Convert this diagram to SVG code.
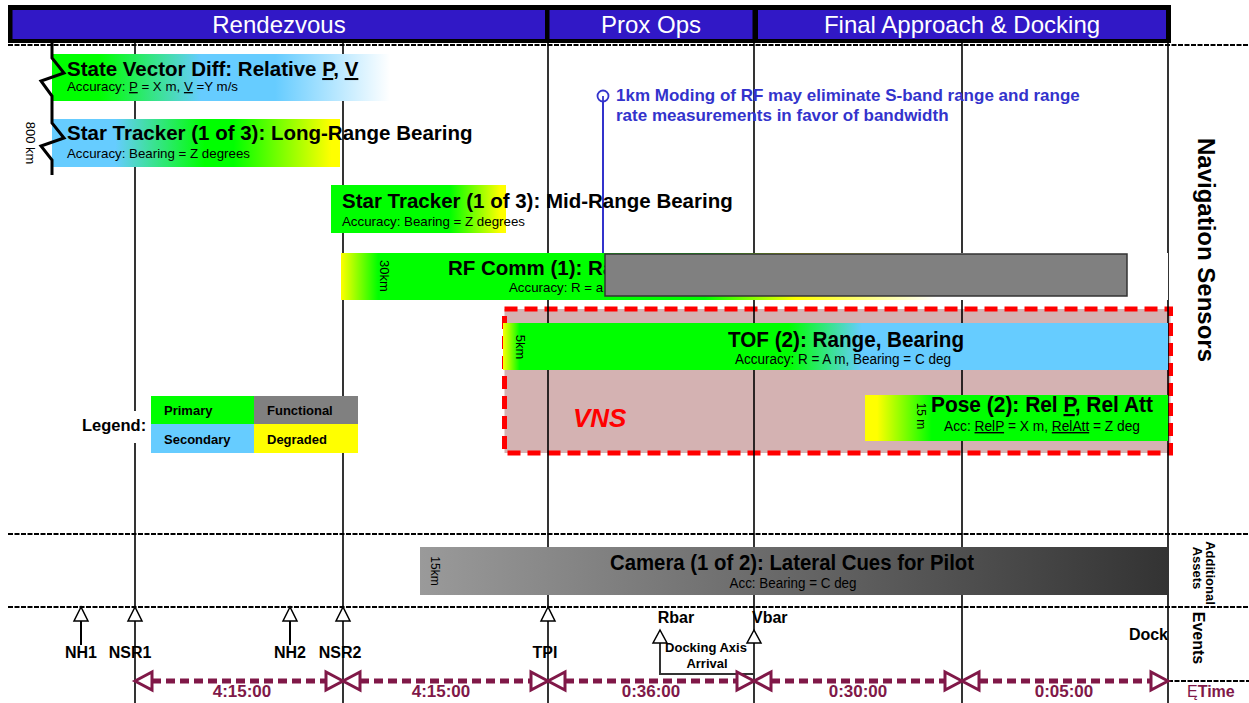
<svg xmlns="http://www.w3.org/2000/svg" width="1249" height="703" viewBox="0 0 1249 703">
<style>
text{font-family:"Liberation Sans",Arial,sans-serif;fill:#000}
.hd{font-size:24px;fill:#fff;text-anchor:middle}
.ttl{font-size:20.5px;font-weight:bold}
.acc{font-size:13.3px}
.nar{font-size:22px;font-weight:bold}
.nacc{font-size:14px}
.rot{font-size:13px}
.leg{font-size:13px;font-weight:bold}
.ev{font-size:16px;font-weight:bold;text-anchor:middle}
.tm{font-size:17px;font-weight:bold;fill:#801848;text-anchor:middle}
.grid{stroke:#000;stroke-width:1.6}
.hdash{stroke:#000;stroke-width:2;stroke-dasharray:5 1.5;fill:none}
.evt{fill:#fff;stroke:#000;stroke-width:1.5}
.tl{stroke:#801848;stroke-width:5;stroke-dasharray:9 5}
.ta{fill:#fff;stroke:#801848;stroke-width:3}
.note{font-size:17px;font-weight:bold;fill:#3333CC}
.u{text-decoration:underline}
</style>
<defs>
<linearGradient id="gSV"><stop offset="0" stop-color="#00FF00"/><stop offset="0.14" stop-color="#00FF00"/><stop offset="0.44" stop-color="#66CCFF"/><stop offset="0.66" stop-color="#66CCFF"/><stop offset="1" stop-color="#FFFFFF"/></linearGradient>
<linearGradient id="gST1"><stop offset="0" stop-color="#66CCFF"/><stop offset="0.22" stop-color="#66CCFF"/><stop offset="0.53" stop-color="#00FF00"/><stop offset="0.63" stop-color="#00FF00"/><stop offset="0.97" stop-color="#FFFF00"/><stop offset="1" stop-color="#FFFF00"/></linearGradient>
<linearGradient id="gST2"><stop offset="0" stop-color="#00FF00"/><stop offset="0.68" stop-color="#00FF00"/><stop offset="0.97" stop-color="#FFFF00"/><stop offset="1" stop-color="#FFFF00"/></linearGradient>
<linearGradient id="gRF"><stop offset="0" stop-color="#FFFF00"/><stop offset="0.045" stop-color="#00FF00"/><stop offset="0.44" stop-color="#00FF00"/><stop offset="0.55" stop-color="#FFFF00"/><stop offset="0.72" stop-color="#FFFFFF"/><stop offset="1" stop-color="#FFFFFF"/></linearGradient>
<linearGradient id="gTOF"><stop offset="0" stop-color="#FFFF00"/><stop offset="0.025" stop-color="#00FF00"/><stop offset="0.43" stop-color="#00FF00"/><stop offset="0.54" stop-color="#66CCFF"/><stop offset="1" stop-color="#66CCFF"/></linearGradient>
<linearGradient id="gPose"><stop offset="0" stop-color="#FFFF00"/><stop offset="0.04" stop-color="#FFFF00"/><stop offset="0.22" stop-color="#00FF00"/><stop offset="1" stop-color="#00FF00"/></linearGradient>
<linearGradient id="gCam"><stop offset="0" stop-color="#9A9A9A"/><stop offset="1" stop-color="#333333"/></linearGradient>
</defs>
<rect width="1249" height="703" fill="#fff"/>

<g id="header">
<rect x="8" y="5" width="1163" height="38" fill="#000"/>
<rect x="12.5" y="10" width="532.5" height="29" fill="#3118C6"/>
<rect x="549.5" y="10" width="203" height="29" fill="#3118C6"/>
<rect x="758" y="10" width="408" height="29" fill="#3118C6"/>
<text class="hd" x="279" y="33">Rendezvous</text>
<text class="hd" x="651" y="33">Prox Ops</text>
<text class="hd" x="962" y="33">Final Approach &amp; Docking</text>
</g>

<g id="vns-box">
<rect x="504.5" y="309" width="666" height="144" fill="#D4B2B2" stroke="#FF0000" stroke-width="5" stroke-dasharray="13 7"/>
<text x="573" y="427" style="font-size:26px;font-weight:bold;font-style:italic;fill:#FF0000">VNS</text>
</g>

<g id="connectors">
<line class="hdash" x1="8" y1="45" x2="1249" y2="45"/>
<line class="hdash" x1="8" y1="534" x2="1249" y2="534"/>
<line class="hdash" x1="8" y1="607" x2="1249" y2="607"/>
<line class="hdash" x1="1168" y1="681" x2="1249" y2="681"/>
<line class="grid" x1="135" y1="43" x2="135" y2="703"/>
<line class="grid" x1="343" y1="43" x2="343" y2="703"/>
<line class="grid" x1="548" y1="43" x2="548" y2="703"/>
<line class="grid" x1="754" y1="43" x2="754" y2="703"/>
<line class="grid" x1="962" y1="43" x2="962" y2="703"/>
<line class="grid" x1="1168" y1="43" x2="1168" y2="703"/>
<line x1="603" y1="101" x2="603" y2="254" stroke="#3333CC" stroke-width="2"/>
<circle cx="603" cy="96" r="5.5" fill="#fff" stroke="#3333CC" stroke-width="1.8"/>
<line x1="603" y1="96" x2="603" y2="101.5" stroke="#3333CC" stroke-width="1.8"/>
<!-- events -->
<line x1="81" y1="621" x2="81" y2="645" stroke="#000" stroke-width="2"/>
<line x1="290" y1="621" x2="290" y2="645" stroke="#000" stroke-width="2"/>
<polygon class="evt" points="81,607 74,621 88,621"/>
<polygon class="evt" points="135,607 128,621 142,621"/>
<polygon class="evt" points="290,607 283,621 297,621"/>
<polygon class="evt" points="343,607 336,621 350,621"/>
<polygon class="evt" points="548,607 541,621 555,621"/>
<polyline points="660,643 660,674 754,674" fill="none" stroke="#333" stroke-width="2"/>
<polygon class="evt" points="660,630 653,643 667,643"/>
<polygon class="evt" points="754,630 747,643 761,643"/>
<!-- time -->
<line class="tl" x1="152" y1="681" x2="326" y2="681"/>
<line class="tl" x1="360" y1="681" x2="531" y2="681"/>
<line class="tl" x1="565" y1="681" x2="737" y2="681"/>
<line class="tl" x1="771" y1="681" x2="945" y2="681"/>
<line class="tl" x1="979" y1="681" x2="1151" y2="681"/>
<polygon class="ta" points="135,681 152,672 152,690"/>
<polygon class="ta" points="343,681 326,672 326,690"/>
<polygon class="ta" points="343,681 360,672 360,690"/>
<polygon class="ta" points="548,681 531,672 531,690"/>
<polygon class="ta" points="548,681 565,672 565,690"/>
<polygon class="ta" points="754,681 737,672 737,690"/>
<polygon class="ta" points="754,681 771,672 771,690"/>
<polygon class="ta" points="962,681 945,672 945,690"/>
<polygon class="ta" points="962,681 979,672 979,690"/>
<polygon class="ta" points="1168,681 1151,672 1151,690"/>
</g>

<g id="note">
<text class="note" x="616" y="101">1km Moding of RF may eliminate S-band range and range</text>
<text class="note" x="616" y="121">rate measurements in favor of bandwidth</text>
</g>

<g id="state-vector">
<rect x="52" y="54" width="338" height="47" fill="url(#gSV)"/>
<text class="ttl" x="67" y="76">State Vector Diff: Relative <tspan class="u">P</tspan>, <tspan class="u">V</tspan></text>
<text class="acc" x="67" y="91">Accuracy: <tspan class="u">P</tspan> = X m, <tspan class="u">V</tspan> =Y m/s</text>
</g>

<g id="star-tracker-long">
<rect x="52" y="119" width="288" height="48" fill="url(#gST1)"/>
<text class="ttl" x="67" y="140">Star Tracker (1 of 3): Long-Range Bearing</text>
<text class="acc" x="67" y="158">Accuracy: Bearing = Z degrees</text>
<text class="rot" transform="translate(26,143) rotate(90)" text-anchor="middle">800 km</text>
</g>

<g id="break-line">
<path d="M52,43 V58 L64,73 L41,81 L52,96 V123 L64,138 L41,146 L52,160 V175" fill="none" stroke="#000" stroke-width="3" stroke-linejoin="miter"/>
</g>

<g id="star-tracker-mid">
<rect x="331" y="185" width="175" height="48" fill="url(#gST2)"/>
<text class="ttl" x="342" y="208">Star Tracker (1 of 3): Mid-Range Bearing</text>
<text class="acc" x="342" y="226">Accuracy: Bearing = Z degrees</text>
</g>

<g id="rf-comm">
<rect x="341" y="253" width="827" height="47" fill="url(#gRF)"/>
<text class="ttl" x="448" y="275">RF Comm (1): Ra</text>
<text class="acc" x="509" y="292">Accuracy: R = a</text>
<text class="rot" transform="translate(380,276) rotate(90)" text-anchor="middle">30km</text>
<rect x="605" y="254" width="522" height="42" fill="#808080" stroke="#333" stroke-width="1.5"/>
</g>

<g id="tof">
<rect x="503" y="323" width="665" height="47" fill="url(#gTOF)"/>
<text class="nar" x="846" y="347" text-anchor="middle" textLength="236" lengthAdjust="spacingAndGlyphs">TOF (2): Range, Bearing</text>
<text class="nacc" x="843" y="364" text-anchor="middle" textLength="216" lengthAdjust="spacingAndGlyphs">Accuracy: R = A m, Bearing = C deg</text>
<text class="rot" transform="translate(516,347) rotate(90)" text-anchor="middle">5km</text>
</g>

<g id="pose">
<rect x="865" y="395" width="303" height="46" fill="url(#gPose)"/>
<text class="nar" x="931" y="412" textLength="222" lengthAdjust="spacingAndGlyphs">Pose (2): Rel <tspan class="u">P</tspan>, Rel Att</text>
<text class="nacc" x="944" y="431" textLength="196" lengthAdjust="spacingAndGlyphs">Acc: <tspan class="u">RelP</tspan> = X m, <tspan class="u">RelAtt</tspan> = Z deg</text>
<text class="rot" transform="translate(917,416) rotate(90)" text-anchor="middle" style="font-size:12px">15 m</text>
</g>

<g id="legend">
<rect x="76" y="411" width="73" height="32" fill="#fff"/>
<text x="82" y="431" style="font-size:16.5px;font-weight:bold">Legend:</text>
<rect x="151" y="396" width="103" height="28" fill="#00FF00"/>
<rect x="254" y="396" width="104" height="28" fill="#808080"/>
<rect x="151" y="424" width="103" height="29" fill="#66CCFF"/>
<rect x="254" y="424" width="104" height="29" fill="#FFFF00"/>
<text class="leg" x="164" y="415">Primary</text>
<text class="leg" x="267" y="415">Functional</text>
<text class="leg" x="164" y="444">Secondary</text>
<text class="leg" x="267" y="444">Degraded</text>
</g>

<g id="camera">
<rect x="420" y="547" width="748" height="48" fill="url(#gCam)"/>
<text class="nar" x="610" y="570" textLength="364" lengthAdjust="spacingAndGlyphs">Camera (1 of 2): Lateral Cues for Pilot</text>
<text class="nacc" x="793" y="588" text-anchor="middle" textLength="127" lengthAdjust="spacingAndGlyphs">Acc: Bearing = C deg</text>
<text class="rot" transform="translate(431,571) rotate(90)" text-anchor="middle" style="font-size:12px">15km</text>
</g>

<g id="side-labels">
<text transform="translate(1198,250) rotate(90)" text-anchor="middle" style="font-size:24px;font-weight:bold">Navigation Sensors</text>
<text transform="translate(1206,573) rotate(90)" text-anchor="middle" style="font-size:13px;font-weight:bold">Additional</text>
<text transform="translate(1193,568) rotate(90)" text-anchor="middle" style="font-size:13px;font-weight:bold">Assets</text>
<text transform="translate(1193,638) rotate(90)" text-anchor="middle" style="font-size:16px;font-weight:bold">Events</text>
<text x="1187" y="697" style="font-size:16px;fill:#801848"><tspan>Ę</tspan><tspan font-weight="bold">Time</tspan></text>
</g>

<g id="events">
<text class="ev" x="81" y="658">NH1</text>
<text class="ev" x="130" y="658">NSR1</text>
<text class="ev" x="290" y="658">NH2</text>
<text class="ev" x="340" y="658">NSR2</text>
<text class="ev" x="545" y="658">TPI</text>
<text class="ev" x="676" y="623">Rbar</text>
<text x="752" y="623" style="font-size:16px;font-weight:bold">Vbar</text>
<text x="1168" y="640" text-anchor="end" style="font-size:16px;font-weight:bold">Dock</text>
<text x="706" y="652" text-anchor="middle" style="font-size:13px;font-weight:bold">Docking Axis</text>
<text x="707" y="668" text-anchor="middle" style="font-size:13px;font-weight:bold">Arrival</text>
</g>

<g id="durations">
<text class="tm" x="242" y="697">4:15:00</text>
<text class="tm" x="441" y="697">4:15:00</text>
<text class="tm" x="651" y="697">0:36:00</text>
<text class="tm" x="858" y="697">0:30:00</text>
<text class="tm" x="1064" y="697">0:05:00</text>
</g>
</svg>
